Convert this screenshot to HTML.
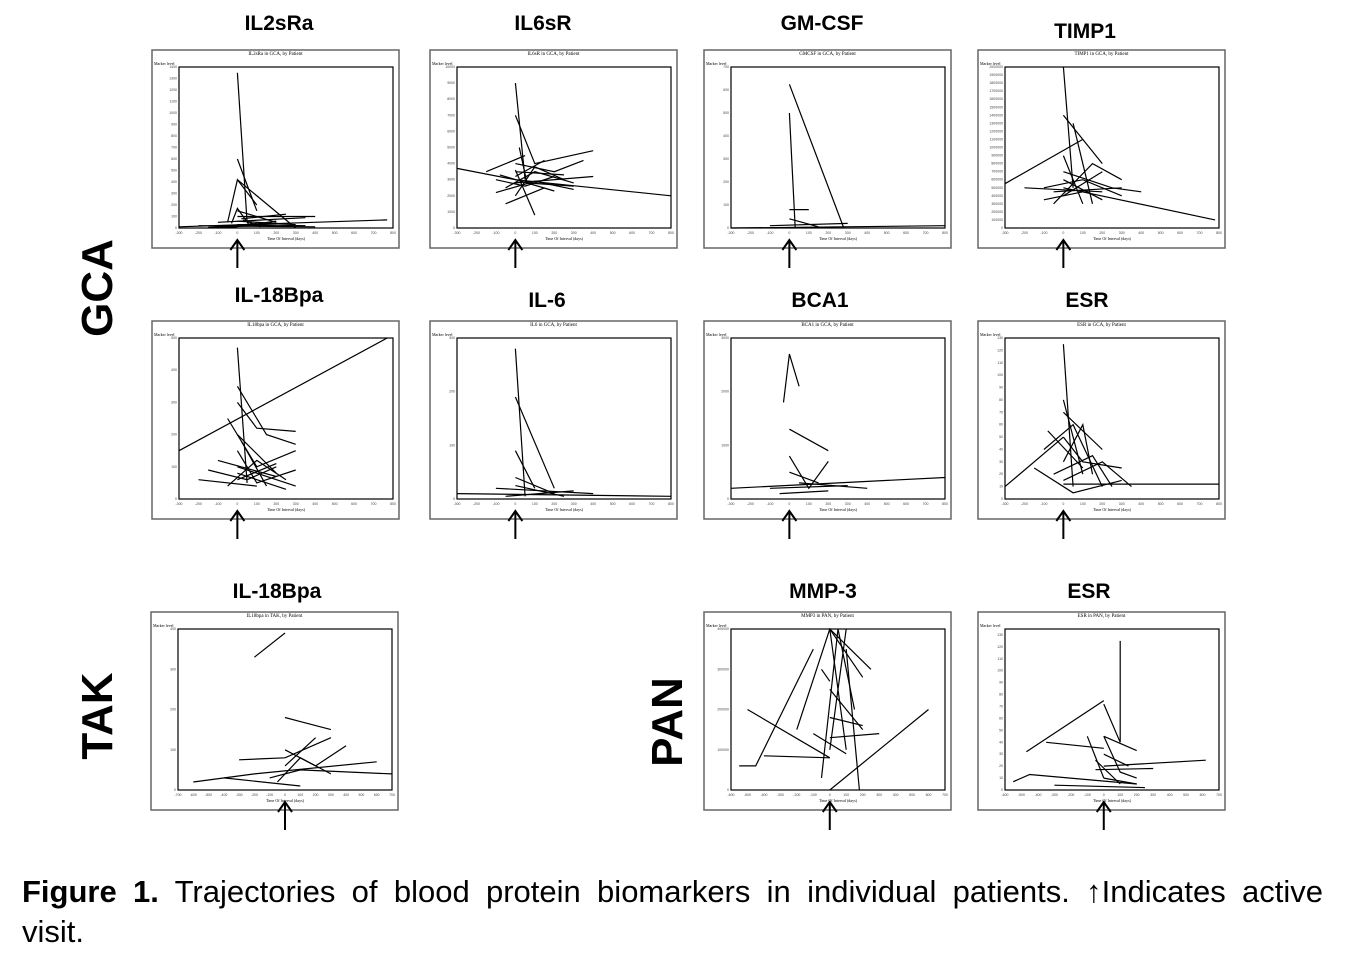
<!DOCTYPE html>
<html><head><meta charset="utf-8"><style>
body{margin:0;background:#fff;width:1359px;height:972px;overflow:hidden;font-family:"Liberation Sans",sans-serif}
svg{position:absolute;left:0;top:0}
#cap{position:absolute;left:22px;top:872px;width:1301px;font-size:31px;line-height:40px;text-align:justify;text-align-last:left}
#cap .l1{display:block;text-align:justify;text-align-last:justify}
</style></head><body>
<svg id="fig" width="1359" height="972" viewBox="0 0 1359 972"></svg>
<div id="cap"><span class="l1"><b>Figure 1.</b> Trajectories of blood protein biomarkers in individual patients. ↑Indicates active</span>visit.</div>
<script>
const panelTitles=["IL2sRa","IL6sR","GM-CSF","TIMP1","IL-18Bpa","IL-6","BCA1","ESR","IL-18Bpa","MMP-3","ESR"];
const innerTitles=["IL2sRa in GCA, by Patient","IL6sR in GCA, by Patient","GMCSF in GCA, by Patient","TIMP1 in GCA, by Patient","IL18bpa in GCA, by Patient","IL6 in GCA, by Patient","BCA1 in GCA, by Patient","ESR in GCA, by Patient","IL18bpa in TAK, by Patient","MMP3 in PAN, by Patient","ESR in PAN, by Patient"];
const xMins=[-300,-300,-300,-300,-300,-300,-300,-300,-700,-600,-600];
const xMaxs=[800,800,800,800,800,800,800,800,700,700,700];
const yMaxs=[1400,10000,700,2000000,500,300,3000,130,400,400000,135];
const yTickSteps=[100,1000,100,100000,100,100,1000,5,100,100000,5];
const traj0=[[0,1350,50,50],[0,600,100,150],[-50,50,0,420,100,200],[0,420,300,0],[-300,10,770,70],[-100,50,350,90],[0,100,400,100],[-200,20,400,10],[0,60,300,30],[-50,0,200,60],[0,150,200,50],[-30,40,0,170,60,30],[20,80,250,120],[-100,0,100,40],[0,30,350,20],[-150,5,200,25],[30,70,120,10]];
const traj1=[[0,9000,50,3000],[0,7000,100,4000,400,4800],[-300,3700,0,3000,800,2000],[-50,2500,100,3500,300,2800],[0,4000,200,3500,350,4200],[-100,3000,50,2600,200,3200],[0,2000,100,3800,250,3000],[-50,1500,150,2500],[20,5000,60,2800,300,2600],[0,3200,150,4200],[100,800,0,3600],[-80,3300,200,2300],[0,2800,400,3200],[-150,3500,50,4500],[-100,2200,100,2900,300,2400],[0,3500,250,3300]];
const traj2=[[0,625,280,0],[0,500,30,0],[-300,0,800,10],[0,80,100,80],[-100,10,300,20],[0,40,150,5]];
const traj3=[[0,2000000,50,500000],[-300,550000,100,1100000],[0,500000,780,100000],[0,1400000,200,800000],[-100,500000,100,600000,300,400000],[0,700000,250,500000,400,450000],[-50,300000,150,800000,300,600000],[0,900000,100,300000],[50,1300000,150,300000],[-200,500000,200,450000],[0,400000,200,700000],[-100,350000,100,450000],[0,600000,200,350000],[-50,450000,300,500000]];
const traj4=[[-300,150,770,500],[0,470,50,50],[0,350,150,200,300,170],[-50,250,100,100,300,150],[0,200,200,80],[-150,90,50,60,200,100],[0,150,100,50,300,90],[-50,40,100,120,250,60],[0,300,100,220,300,210],[-200,60,100,40],[0,100,300,40],[20,180,150,40],[0,60,200,110],[-100,120,200,70],[0,80,250,30]];
const traj5=[[0,280,50,5],[0,190,200,20],[0,90,100,20],[-300,10,800,5],[-100,20,400,10],[0,40,200,10],[-50,5,300,15],[0,25,250,5]];
const traj6=[[-30,1800,0,2700,50,2100],[0,1300,200,900],[-300,200,800,400],[0,500,150,300],[-100,200,300,250],[0,800,100,200,200,700],[50,300,400,200],[-50,100,200,150]];
const traj7=[[0,125,50,10],[-300,10,0,50],[0,80,100,20],[0,12,800,12],[-100,40,50,60,200,10],[0,50,100,30,300,25],[-50,20,150,35,250,10],[0,70,200,40],[-150,25,50,5,300,15],[0,30,100,60,150,20],[0,15,200,30,350,10],[-80,55,100,25]];
const traj8=[[-200,330,0,390],[-300,75,0,80,300,130],[0,180,100,170,300,150],[-600,20,-200,40,600,70],[-100,30,100,50,700,40],[0,100,200,60,400,110],[-400,30,100,10],[0,60,200,130],[-50,20,100,80,300,40]];
const traj9=[[-550,60000,-450,60000,-100,350000],[-500,200000,0,80000],[-200,150000,0,400000,250,300000],[0,0,600,200000],[-400,85000,0,80000],[0,400000,100,100000],[50,400000,150,200000],[100,400000,0,100000],[0,250000,200,150000],[0,130000,300,140000],[-100,140000,100,90000],[-50,300000,0,270000],[0,400000,200,280000],[100,350000,180,0],[-50,30000,50,400000],[0,180000,200,160000]];
const traj10=[[-470,32,0,75],[0,72,100,40,100,125],[-350,40,0,35],[-550,7,-450,13,200,5],[-100,45,0,10],[-300,4,250,2],[0,45,200,33],[0,20,620,25],[-50,17,300,18],[0,30,150,20],[-50,25,100,5],[0,10,200,5],[0,45,100,15,200,10]];
const allTraj=[traj0,traj1,traj2,traj3,traj4,traj5,traj6,traj7,traj8,traj9,traj10];
const rowLabels=["GCA","TAK","PAN"];

const NS="http://www.w3.org/2000/svg";
const svg=document.getElementById('fig');
function mk(tag,attrs,parent){const e=document.createElementNS(NS,tag);for(const k in attrs)e.setAttribute(k,attrs[k]);(parent||svg).appendChild(e);return e;}
const outerX=[152,430,704,978,152,430,704,978,151,704,978];
const outerY=[50,50,50,50,321,321,321,321,612,612,612];
const titleX=[279,543,822,1085,279,547,820,1087,277,823,1089];
const titleY=[30,30,30,38,302,307,307,307,598,598,598];
const W=247,H=198;
for(let i=0;i<11;i++){
  const g=mk('g',{});
  
  
  const ox=outerX[i],oy=outerY[i];
  const t=mk('text',{x:titleX[i],y:titleY[i],'text-anchor':'middle','font-size':'21','font-weight':'bold'},g);
  t.textContent=panelTitles[i];
  
  const ob=mk('rect',{x:ox,y:oy,width:W,height:H,fill:'none',stroke:'#666','stroke-width':'1.5'},g);
  
  const L=ox+27,R=ox+W-6,T=oy+17,B=oy+H-20;
  const it=mk('text',{x:(ox+W/2),y:oy+5,'text-anchor':'middle','font-size':'5','font-family':'Liberation Serif'},g);
  it.textContent=innerTitles[i];
  
  const yl=mk('text',{x:ox+2,y:T-2,'font-size':'4','font-family':'Liberation Serif'},g);yl.textContent='Marker level';
  
  const xl=mk('text',{x:(L+R)/2,y:B+12,'text-anchor':'middle','font-size':'4','font-family':'Liberation Serif'},g);xl.textContent='Time Of Interval (days)';
  
  const box=mk('rect',{x:L,y:T,width:R-L,height:B-T,fill:'none',stroke:'#000','stroke-width':'1.2'},g);
  
  const xs=v=>L+(v-xMins[i])/(xMaxs[i]-xMins[i])*(R-L);
  const ys=v=>B-v/yMaxs[i]*(B-T);
  for(let v=xMins[i];v<=xMaxs[i];v+=100){
    const tk=mk('text',{x:xs(v),y:B+6,'text-anchor':'middle','font-size':'3.5','fill':'#444'},g);tk.textContent=v;
    
  }
  const st=yTickSteps[i]*(yMaxs[i]/yTickSteps[i]>20?Math.ceil(yMaxs[i]/yTickSteps[i]/20):1);
  for(let v=0;v<=yMaxs[i]+1e-9;v+=st){
    const tk=mk('text',{x:L-2,y:ys(v)+1,'text-anchor':'end','font-size':'3.5','fill':'#444'},g);tk.textContent=v;
    
  }
  allTraj[i].forEach((p,j)=>{
    let pts=[];for(let k=0;k<p.length;k+=2)pts.push(xs(p[k]).toFixed(1)+','+ys(p[k+1]).toFixed(1));
    const pl=mk('polyline',{points:pts.join(' '),fill:'none',stroke:'#000','stroke-width':'1.2'},g);
    
  });
  const ax=xs(0),ay=oy+H-8;
  const ar=mk('path',{d:`M${ax},${ay+28} L${ax},${ay} M${ax-7},${ay+10} L${ax},${ay} L${ax+7},${ay+10}`,fill:'none',stroke:'#000','stroke-width':'2'},g);
  
}
const rlX=[112,112,682],rlY=[288,716,722];
rowLabels.forEach((r,i)=>{
  const t=mk('text',{x:rlX[i],y:rlY[i],'text-anchor':'middle','font-size':'44','font-weight':'bold',transform:`rotate(-90 ${rlX[i]} ${rlY[i]})`});
  t.textContent=r;
  
});
</script>
</body></html>
